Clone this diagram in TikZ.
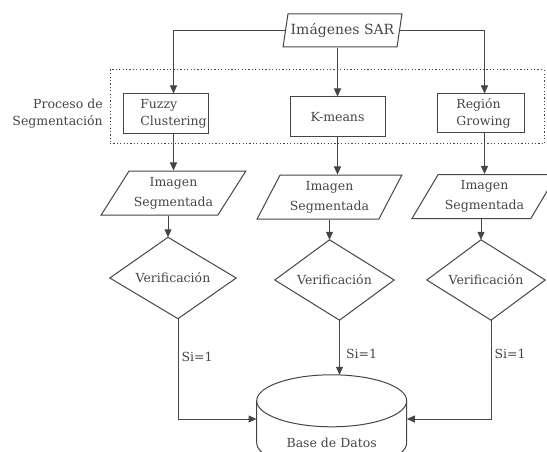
\documentclass[tikz,border=0pt]{standalone}
\usepackage{fontspec}
\setmainfont{DejaVu Serif}
\usetikzlibrary{arrows.meta,calc,shapes.geometric}
\definecolor{ink}{HTML}{454545}
\begin{document}
\begin{tikzpicture}[x=1pt,y=-1pt,
  every node/.style={text=ink, font=\fontsize{12.5}{17}\selectfont},
  line/.style={draw=ink, line width=1pt},
  arr/.style={line, -{Triangle[length=8pt,width=7pt]}},
  procbox/.style={line, rectangle, inner xsep=2pt, inner ysep=0pt, minimum height=40pt},
  datapara/.style={line, trapezium, trapezium stretches=true, inner sep=0pt,
    minimum height=44pt, minimum width=145pt, align=center,
    font=\fontsize{12.5}{20}\selectfont},
  decision/.style={rectangle, inner sep=0pt, minimum height=80pt},
  segframe/.style={draw=ink, line width=1pt, dash pattern=on 1.2pt off 2.2pt, rectangle, inner sep=0pt},
  lbl/.style={right, inner sep=3pt},
]
\useasboundingbox (0,0) rectangle (547,452);
\clip (0,0) rectangle (547,452);

% segmentation frame and its label
\node[segframe, minimum width=434pt, minimum height=74pt] (segbox) at (327,107) {};
\node[anchor=east, align=right, inner sep=0pt] (seglabel) at (103,113.5) {Proceso de\\Segmentación};

% source
\node[line, trapezium, trapezium stretches=true, trapezium left angle=72, trapezium right angle=108,
      inner sep=0pt, minimum width=119pt, minimum height=33pt, font=\fontsize{14}{17}\selectfont]
      (sar) at (342.5,30.5) {Imágenes SAR};

% segmentation methods
\node[procbox, minimum width=84pt, align=left] (fuzzy) at (166,114)
  {\hspace*{15pt}Fuzzy\\\hspace*{15pt}Clustering};
\node[procbox, minimum width=95pt, align=center] (kmeans) at (337.5,117) {K-means};
\node[procbox, minimum width=87pt, minimum height=39pt, align=left] (region) at (480.5,113.5)
  {\hspace*{6pt}Región\\\hspace*{6pt}Growing};

% segmented images
\node[datapara, trapezium left angle=52, trapezium right angle=128] (para1) at (173.5,193) {Imagen\\Segmentada};
\node[datapara, trapezium left angle=60, trapezium right angle=120] (para2) at (329.5,197) {Imagen\\Segmentada};
\node[datapara, trapezium left angle=55, trapezium right angle=125] (para3) at (484.5,196.5) {Imagen\\Segmentada};

% verification diamonds (slightly skewed, as drawn in the reference)
\node[decision, minimum width=126pt, minimum height=81pt] (d1) at (173,278) {Verificación};
\node[decision, minimum width=119pt] (d2) at (334.5,280) {Verificación};
\node[decision, minimum width=118pt] (d3) at (486,280) {Verificación};
\coordinate (d1t) at ($(d1.north)+(-5,0)$);
\coordinate (d1b) at ($(d1.south)+(5,0)$);
\coordinate (d2t) at ($(d2.north)+(-5,0)$);
\coordinate (d2b) at ($(d2.south)+(5,0)$);
\coordinate (d3t) at ($(d3.north)+(-5,0)$);
\coordinate (d3b) at ($(d3.south)+(5,0)$);
\draw[line] (d1.west) -- (d1t) -- (d1.east) -- (d1b) -- cycle;
\draw[line] (d2.west) -- (d2t) -- (d2.east) -- (d2b) -- cycle;
\draw[line] (d3.west) -- (d3t) -- (d3.east) -- (d3b) -- cycle;

% database cylinder
\node[rectangle, inner sep=0pt, minimum width=150pt, minimum height=88pt] (db) at (331.7,419) {};
\coordinate (ct) at ($(db.north)+(0,26)$);
\draw[line] (ct) ellipse [x radius=75pt, y radius=26pt];
\draw[line] ($(ct)+(-75,0)$) -- ($(ct)+(-75,42)$)
  arc[start angle=180, end angle=360, x radius=75pt, y radius=26pt] -- ($(ct)+(75,0)$);
\node (dbtext) at (331.7,443) {Base de Datos};

% connectors
\draw[arr] (sar.left side) -| (para1.north |- fuzzy.north);
\draw[arr] (kmeans.north |- sar.south) -- (kmeans.north);
\draw[arr] (sar.right side) -| (para3.north |- region.north);

\draw[arr] (para1.north |- fuzzy.south) -- (para1.north);
\draw[arr] (kmeans.south) -- (kmeans.south |- para2.north);
\draw[arr] (para3.north |- region.south) -- (para3.north);

\draw[arr] (d1t |- para1.south) -- (d1t);
\draw[arr] (d2t |- para2.south) -- (d2t);
\draw[arr] (d3t |- para3.south) -- (d3t);

\draw[arr] (d1b) |- node[lbl, pos=0.19] {Si=1} (db.west);
\draw[arr] (d2b) -- node[lbl, pos=0.62, xshift=3pt] {Si=1} (d2b |- db.north);
\draw[arr] (d3b) |- node[lbl, pos=0.17] {Si=1} (db.east);
\end{tikzpicture}
\end{document}
